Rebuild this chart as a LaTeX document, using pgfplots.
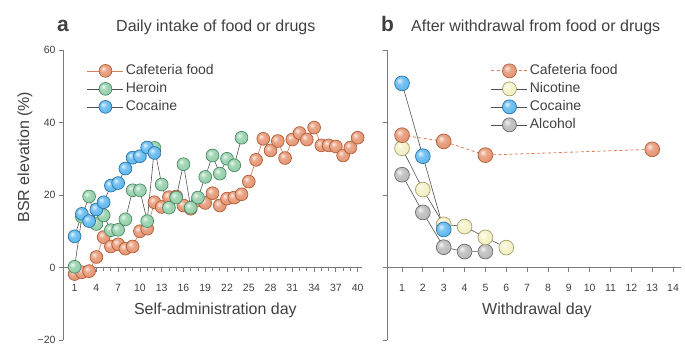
\documentclass[border=0pt]{standalone}
\usepackage{pgfplots}
\pgfplotsset{compat=1.18}
\usepackage{fontspec}
\setmainfont{Liberation Sans}
\definecolor{cO}{HTML}{E4916C}
\definecolor{cOd}{HTML}{B05F3C}
\definecolor{cG}{HTML}{8ECDA6}
\definecolor{cGd}{HTML}{4F8A67}
\definecolor{cB}{HTML}{58B5EE}
\definecolor{cBd}{HTML}{2C74A8}
\definecolor{cY}{HTML}{F4F0C2}
\definecolor{cYd}{HTML}{A39E6E}
\definecolor{cK}{HTML}{B8B8B8}
\definecolor{cKd}{HTML}{6B6B6B}
\definecolor{axg}{HTML}{7A7A7A}
\definecolor{txt}{HTML}{404040}
\definecolor{lineg}{HTML}{505050}
\definecolor{lineo}{HTML}{D9805C}
\newcommand\mkball[3]{%
  \pgfdeclareradialshading{sh#1}{\pgfpoint{-10bp}{10bp}}{color(0bp)=(#2!15!white); color(12bp)=(#2!80!white); color(30bp)=(#2); color(50bp)=(#2!80!black)}%
  \pgfdeclareplotmark{ball#1}{%
    \pgfpathcircle{\pgfpointorigin}{\pgfplotmarksize}%
    \pgfshadepath{sh#1}{0}%
    \pgfusepath{}%
    \pgfsetstrokecolor{#3}\pgfsetlinewidth{0.7pt}\pgfsetdash{}{0pt}%
    \pgfpathcircle{\pgfpointorigin}{\pgfplotmarksize}%
    \pgfusepath{stroke}}}
\mkball{O}{cO}{cOd}
\mkball{G}{cG}{cGd}
\mkball{B}{cB}{cBd}
\mkball{Y}{cY}{cYd}
\mkball{K}{cK}{cKd}
\pgfplotsset{
  legend image code/.code={\draw[mark repeat=2, mark phase=2, #1] plot coordinates {(0pt,0pt) (18pt,0pt) (36pt,0pt)};},
  myax/.style={scale only axis, clip=false,
    axis y line=left, axis x line=middle,
    axis line style={draw=axg, line width=0.8pt},
    x axis line style={-}, y axis line style={-},
    every inner x axis line/.append style={-},
    every outer y axis line/.append style={-},
    ymin=-20, ymax=60, ytick={-20,0,20,40,60},
    tick align=outside, major tick length=4pt, minor tick length=3pt,
    tick style={draw=axg, line width=0.8pt},
    hide obscured x ticks=false, hide obscured y ticks=false,
    /pgf/number format/assume math mode=true,
    tick label style={font=\fontsize{10.5}{12}\selectfont, text=txt},
    xticklabel style={yshift=-9pt},
    xlabel style={font=\fontsize{16}{18}\selectfont, text=txt, anchor=center},
    legend style={draw=none, fill=none, font=\fontsize{14}{16}\selectfont, text=txt,
      cells={anchor=west}, row sep=1pt, nodes={text height=10pt, text depth=3pt, inner sep=2pt}},
  }
}
\begin{document}
\begin{tikzpicture}
\useasboundingbox (0,0) rectangle (685pt,349pt);
\begin{axis}[myax, at={(63pt,9pt)}, anchor=south west, width=299pt, height=290pt,
  xmin=-0.6, xmax=40.6, xtick={1,4,...,40}, minor xtick={1,...,40},
  yticklabels={−20,0,20,40,60},
  xlabel={Self-administration day}, xlabel style={at={(axis cs:20.4,-11.9)}},
  ylabel={BSR elevation (\%)},
  ylabel style={at={(axis description cs:-0.127,0.631)}, anchor=center, font=\fontsize{16}{18}\selectfont, text=txt},
  legend style={at={(axis description cs:0.07,0.965)}, anchor=north west}]
\addplot[lineo, line width=0.7pt, mark=ballO, mark size=6.4pt] coordinates {
(1,-1.8) (2,-1.3) (3,-1.0) (4,2.9) (5,8.4) (6,5.8) (7,6.4) (8,5.2) (9,5.8) (10,10.0)
(11,10.7) (12,18.0) (13,16.7) (14,19.4) (15,19.6) (16,17.1) (17,16.2) (18,18.5) (19,17.8) (20,20.5)
(21,17.1) (22,19.0) (23,19.3) (24,20.2) (25,23.7) (26,29.7) (27,35.5) (28,32.3) (29,34.9) (30,30.2)
(31,35.3) (32,37.1) (33,35.3) (34,38.6) (35,33.7) (36,33.7) (37,33.4) (38,30.9) (39,33.1) (40,35.8)};
\addlegendentry{Cafeteria food}
\addplot[lineg, line width=0.6pt, mark=ballG, mark size=6.4pt] coordinates {
(1,0.2) (2,14) (3,19.6) (4,12) (5,14.4) (6,10.3) (7,10.4) (8,13.3) (9,21.3) (10,21.3)
(11,12.8) (12,33.0) (13,22.9) (14,16.5) (15,19.3) (16,28.5) (17,16.5) (18,19.3) (19,25.0) (20,30.9)
(21,25.9) (22,30.0) (23,28.2) (24,35.8)};
\addlegendentry{Heroin}
\addplot[lineg, line width=0.6pt, mark=ballB, mark size=6.4pt] coordinates {
(1,8.6) (2,14.8) (3,12.8) (4,16.0) (5,18.0) (6,22.6) (7,23.3) (8,27.3) (9,30.3) (10,30.7)
(11,33.1) (12,31.6)};
\addlegendentry{Cocaine}
\end{axis}
\begin{axis}[myax, at={(387pt,9pt)}, anchor=south west, width=294pt, height=290pt,
  xmin=0.28, xmax=14.38, xtick={1,...,14},
  yticklabels={},
  xlabel={Withdrawal day}, xlabel style={at={(axis cs:7.47,-11.9)}},
  legend style={at={(axis description cs:0.343,0.965)}, anchor=north west}]
\addplot[lineg, line width=0.6pt, mark=ballK, mark size=7.4pt, forget plot] coordinates {
(1,25.6) (2,15.2) (3,5.6) (4,4.4) (5,4.4)};
\addplot[lineg, line width=0.6pt, mark=ballY, mark size=7.4pt, forget plot] coordinates {
(1,32.9) (2,21.5) (3,11.9) (4,11.3) (5,8.3) (6,5.5)};
\addplot[lineg, line width=0.6pt, mark=ballB, mark size=7.4pt, forget plot] coordinates {
(1,50.8) (2,30.7) (3,10.5)};
\addplot[lineo, line width=0.8pt, dash pattern=on 3pt off 2.5pt, mark=ballO, mark size=7.4pt, mark options={solid}, forget plot] coordinates {
(1,36.5) (3,34.8) (5,31.0) (13,32.6)};
\addlegendimage{lineo, line width=0.8pt, dash pattern=on 3pt off 2.5pt, mark=ballO, mark size=7pt, mark options={solid}}
\addlegendentry{Cafeteria food}
\addlegendimage{lineg, line width=0.6pt, mark=ballY, mark size=7pt}
\addlegendentry{Nicotine}
\addlegendimage{lineg, line width=0.6pt, mark=ballB, mark size=7pt}
\addlegendentry{Cocaine}
\addlegendimage{lineg, line width=0.6pt, mark=ballK, mark size=7pt}
\addlegendentry{Alcohol}
\end{axis}
\node[anchor=base west, font=\fontsize{21}{24}\selectfont\bfseries, text=txt, inner sep=0pt] at (57pt,317pt) {a};
\node[anchor=base west, font=\fontsize{16}{18}\selectfont, text=txt, inner sep=0pt] at (116pt,317pt) {Daily intake of food or drugs};
\node[anchor=base west, font=\fontsize{21}{24}\selectfont\bfseries, text=txt, inner sep=0pt] at (381pt,317pt) {b};
\node[anchor=base west, font=\fontsize{16}{18}\selectfont, text=txt, inner sep=0pt] at (411pt,317pt) {After withdrawal from food or drugs};
\end{tikzpicture}
\end{document}
